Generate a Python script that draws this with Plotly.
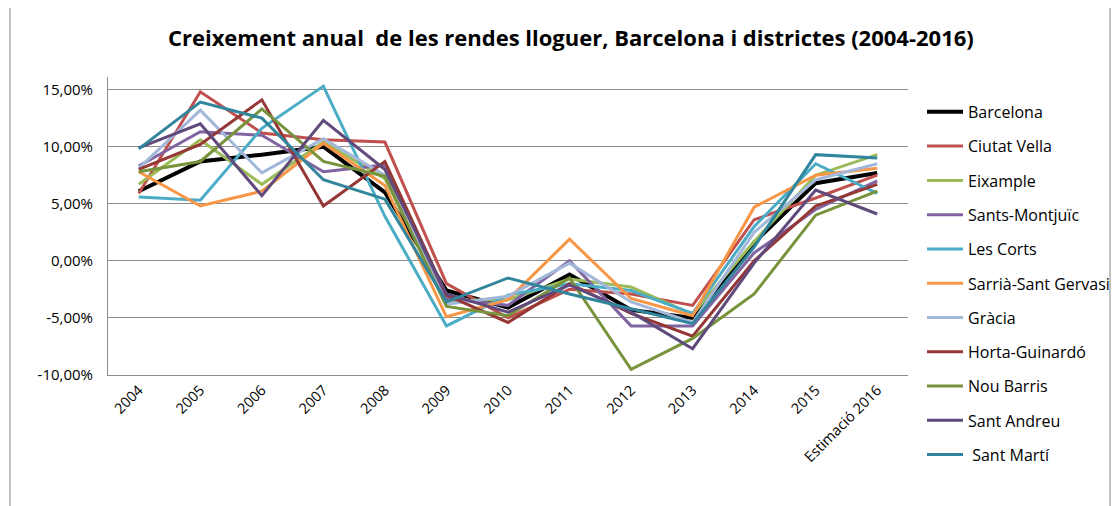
"""
Creixement anual de les rendes de lloguer - Barcelona i districtes
"""
import plotly.graph_objects as go

# ── 데이터 ────────────────────────────────────────────────────
years = ["2004", "2005", "2006", "2007", "2008", "2009", "2010",
         "2011", "2012", "2013", "2014", "2015", "Estimació 2016"]

barcelona = [6.1, 8.7, 9.3, 10.0, 6.0, -2.6, -4.1, -1.2, -4.3, -5.0, 1.6, 6.8, 7.7]
ciutat_vella = [5.9, 14.8, 11.2, 10.6, 10.4, -2.0, -5.0, -2.5, -2.9, -3.9, 3.6, 5.5, 7.5]
eixample = [6.7, 10.6, 6.7, 10.4, 7.2, -3.5, -3.4, -1.6, -2.3, -4.7, 1.7, 7.5, 9.3]
sants_montjuic = [8.3, 11.3, 11.0, 7.8, 8.4, -3.3, -3.9, 0.0, -5.7, -5.7, 0.7, 4.5, 7.0]
les_corts = [5.6, 5.3, 11.6, 15.3, 3.9, -5.7, -3.0, -2.0, -2.6, -4.6, 3.0, 8.5, 5.9]
sarria = [7.8, 4.8, 6.1, 10.3, 6.6, -4.9, -3.4, 1.9, -3.3, -4.8, 4.7, 7.5, 8.1]
gracia = [8.1, 13.2, 7.7, 10.7, 7.5, -3.8, -3.1, -0.2, -3.6, -5.4, 2.5, 7.1, 8.5]
horta = [8.0, 10.2, 14.1, 4.8, 8.7, -3.0, -5.4, -2.0, -4.6, -6.6, 0.0, 4.8, 6.7]
nou_barris = [7.8, 8.7, 13.3, 8.7, 7.4, -4.0, -4.8, -1.5, -9.5, -6.8, -2.9, 4.0, 6.1]
sant_andreu = [9.9, 12.0, 5.7, 12.3, 8.0, -2.9, -4.5, -2.1, -4.5, -7.7, -0.2, 6.2, 4.1]
sant_marti = [9.8, 13.9, 12.5, 7.1, 5.4, -3.6, -1.5, -2.9, -4.2, -5.5, 1.2, 9.3, 9.0]

y_ticks = [-10, -5, 0, 5, 10, 15]
y_tick_text = ["-10,00%", "-5,00%", "0,00%", "5,00%", "10,00%", "15,00%"]

SERIES = [
    ("Barcelona", barcelona, "#000000", 4),
    ("Ciutat Vella", ciutat_vella, "#C0504D", 3),
    ("Eixample", eixample, "#9BBB59", 3),
    ("Sants-Montjuïc", sants_montjuic, "#8064A2", 3),
    ("Les Corts", les_corts, "#4BACC6", 3),
    ("Sarrià-Sant Gervasi", sarria, "#F79646", 3),
    ("Gràcia", gracia, "#A3B7DA", 3),
    ("Horta-Guinardó", horta, "#953735", 3),
    ("Nou Barris", nou_barris, "#77933C", 3),
    ("Sant Andreu", sant_andreu, "#604A7B", 3),
    (" Sant Martí", sant_marti, "#31859C", 3),
]

FONT = "'Open Sans', Lato, sans-serif"

fig = go.Figure()
for i, (name, vals, color, w) in enumerate(SERIES):
    # 범례가 길어서 두 개로 나눔 (plotly 범례 최대 높이 제한)
    fig.add_trace(go.Scatter(
        x=years, y=vals, mode="lines", name=name,
        legendgroup=f"g{i}", legend="legend" if i < 6 else "legend2",
        line=dict(color=color, width=w)
    ))

# 바깥 테두리 (좌/우 세로선)
fig.add_shape(type="rect", xref="paper", yref="paper",
              x0=-0.1225, x1=1.2525, y0=-0.46, y1=1.28,
              line=dict(color="#868686", width=1), layer="below")

leg = dict(xanchor="left", yanchor="top",
           font=dict(size=16, family=FONT),
           tracegroupgap=10.5, itemwidth=36,
           bgcolor="rgba(0,0,0,0)")

# 페이지 body 기본 여백(8px) 보정
fig.update_layout(
    width=1119, height=506,
    paper_bgcolor="white", plot_bgcolor="white",
    font=dict(family=FONT, color="#000000"),
    title=dict(text="<b>Creixement anual  de les rendes lloguer, Barcelona i districtes (2004-2016)</b>",
               x=0.503, xanchor="center", y=0.941, yanchor="middle",
               font=dict(size=22, family=FONT)),
    margin=dict(l=100, r=219, t=69, b=139, autoexpand=False),
    showlegend=True,
    legend=dict(x=1.0175, y=0.94, **leg),
    legend2=dict(x=1.0175, y=0.25, **leg),
)
fig.update_yaxes(
    range=[-10, 16.1], tickvals=y_ticks, ticktext=y_tick_text,
    showgrid=True, gridcolor="#8C8C8C", gridwidth=1,
    showline=True, linecolor="#8C8C8C", linewidth=1,
    zeroline=False, ticks="", ticklabelstandoff=11,
    tickfont=dict(size=15, family=FONT)
)
fig.update_xaxes(
    range=[-0.5, 12.5], tickangle=-45,
    showgrid=False, showline=True, linecolor="#8C8C8C", linewidth=1,
    ticks="", tickfont=dict(size=14.5, family=FONT)
)

fig.write_html("out.html")
